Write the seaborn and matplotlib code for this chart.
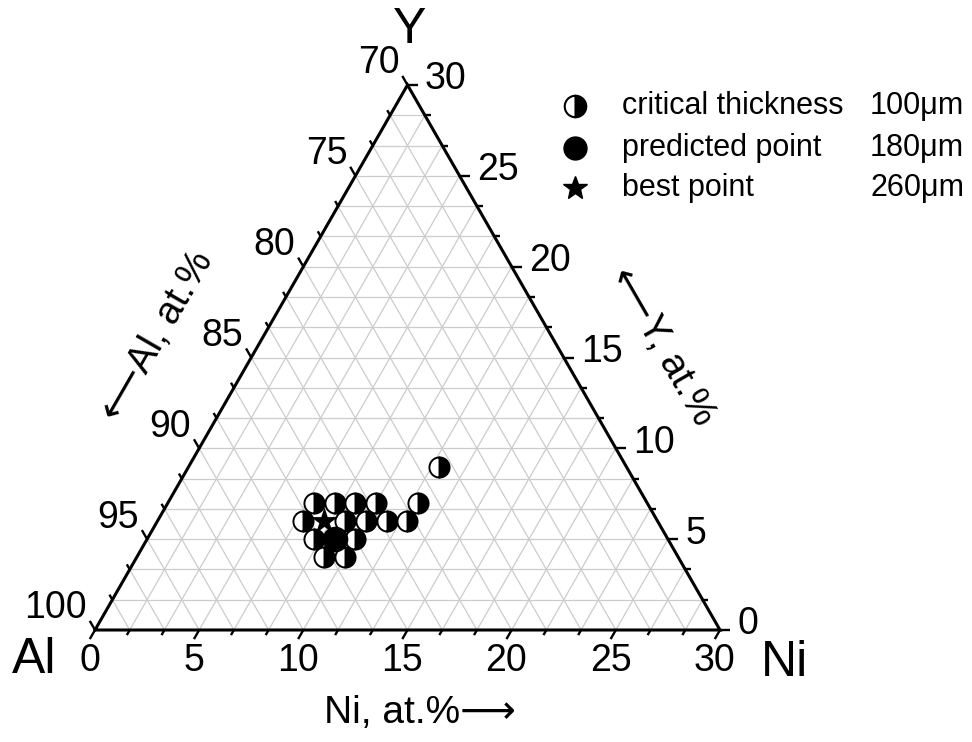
import numpy as np
import matplotlib
matplotlib.use("Agg")
import matplotlib.pyplot as plt
import seaborn as sns
import pandas as pd

# Alloy compositions (at.%); Al is the balance
crit_ni = [7, 8, 9, 10, 12, 7, 9, 10, 11, 12, 8, 10, 9, 10, 12]
crit_y = [7, 7, 7, 7, 7, 6, 6, 6, 6, 6, 5, 5, 4, 4, 9]
pred_ni = [9]
pred_y = [5]
best_ni = [8]
best_y = [6]

ni_ticks = [0, 5, 10, 15, 20, 25, 30]
y_ticks = [0, 5, 10, 15, 20, 25, 30]
al_ticks = [100, 95, 90, 85, 80, 75, 70]

legend_labels = ["critical thickness", "predicted point", "best point"]
legend_values = ["100\u03bcm", "180\u03bcm", "260\u03bcm"]

SPAN = 30.0
H = np.sqrt(3) / 2
FONT = ["Liberation Sans", "DejaVu Sans"]

sns.set_theme(style="white")
plt.rcParams["font.family"] = FONT
plt.rcParams["text.color"] = "black"


def to_xy(ni, y):
    ni = np.asarray(ni, float)
    y = np.asarray(y, float)
    return ni + y / 2, y * H


fig = plt.figure(figsize=(9.72, 7.42), dpi=100)
ax = fig.add_axes([0, 0, 1, 1])
ax.set_xlim(-95 / 20.833, 877 / 20.833)
ax.set_ylim(-112 / 20.977, 630 / 20.977)
ax.axis("off")

# grid every 5/3 at.%
grid_kw = dict(color="#cccccc", lw=0.9, zorder=1)
steps = np.arange(1, 18) * SPAN / 18
for v in steps:
    x, y = to_xy([0, SPAN - v], [v, v])
    ax.plot(x, y, **grid_kw)
    x, y = to_xy([v, v], [0, SPAN - v])
    ax.plot(x, y, **grid_kw)
    x, y = to_xy([v, 0], [0, v])
    ax.plot(x, y, **grid_kw)

# triangle frame
x, y = to_xy([0, SPAN, 0, 0], [0, 0, SPAN, 0])
ax.plot(x, y, color="black", lw=2.2, zorder=3, solid_joinstyle="miter")

# ticks
d_bot = np.array([-0.5, -H])
d_right = np.array([1.0, 0.0])
d_left = np.array([-0.5, H])
for k in range(19):
    v = k * SPAN / 18
    L = 0.5 if k % 3 == 0 else 0.28
    for (ni, yy), d in (((v, 0), d_bot), ((SPAN - v, v), d_right), ((0, v), d_left)):
        px, py = to_xy(ni, yy)
        ax.plot([px, px + L * d[0]], [py, py + L * d[1]], color="black", lw=1.7,
                zorder=3, solid_capstyle="butt")

tick_fs = 27
for t in ni_ticks:
    px, py = to_xy(t, 0)
    ax.annotate(str(t), (px + 0.5 * d_bot[0], py + 0.5 * d_bot[1]), xytext=(0, -3),
                textcoords="offset points", ha="center", va="top", fontsize=tick_fs)
for t in y_ticks:
    px, py = to_xy(SPAN - t, t)
    ax.annotate(str(t), (px + 0.5, py), xytext=(5, 4), textcoords="offset points",
                ha="left", va="center", fontsize=tick_fs)
for t in al_ticks:
    yy = 100 - t
    px, py = to_xy(0, yy)
    ax.annotate(str(t), (px + 0.5 * d_left[0], py + 0.5 * d_left[1]), xytext=(-2, 9),
                textcoords="offset points", ha="right", va="center", fontsize=tick_fs)

# corner labels
corner_fs = 36
ax.text(-2.9, -1.45, "Al", fontsize=corner_fs, ha="center", va="center")
ax.text(33.1, -1.55, "Ni", fontsize=corner_fs, ha="center", va="center")
ax.text(15.1, 28.6, "Y", fontsize=corner_fs, ha="center", va="center")

# axis titles
title_fs = 28
ax.text(3.0, 14.0, "\u27f5Al, at.%", fontsize=title_fs, rotation=60,
        ha="center", va="center", rotation_mode="anchor")
ax.text(27.2, 13.5, "\u27f5Y, at.%", fontsize=title_fs, rotation=-60,
        ha="center", va="center", rotation_mode="anchor")
ax.text(15.6, -3.95, "Ni, at.%\u27f6", fontsize=title_fs, ha="center", va="center")

# data points
crit = pd.DataFrame(dict(zip(["x", "y"], to_xy(crit_ni, crit_y))))
sns.lineplot(data=crit, x="x", y="y", ax=ax, estimator=None, sort=False,
             linestyle="", marker="o", markersize=14.5, fillstyle="right",
             markerfacecolor="black", markerfacecoloralt="white",
             markeredgecolor="black", markeredgewidth=1.4, zorder=5)
pred = pd.DataFrame(dict(zip(["x", "y"], to_xy(pred_ni, pred_y))))
sns.scatterplot(data=pred, x="x", y="y", ax=ax, marker="o", s=340, color="black",
                edgecolor="black", linewidth=0, zorder=6)
best = pd.DataFrame(dict(zip(["x", "y"], to_xy(best_ni, best_y))))
sns.scatterplot(data=best, x="x", y="y", ax=ax, marker="*", s=420, color="black",
                edgecolor="black", linewidth=0, zorder=7)

# legend
leg_fs = 22
rows_y = [1 - 106 / 742, 1 - 148 / 742, 1 - 188 / 742]
mx = 575 / 972
tx = 622 / 972
vx = 964 / 972
fig.lines.append(plt.Line2D([mx], [rows_y[0]], transform=fig.transFigure, marker="o",
                            markersize=15.5, fillstyle="right", markerfacecolor="black",
                            markerfacecoloralt="white", markeredgecolor="black",
                            markeredgewidth=1.5, linestyle=""))
fig.lines.append(plt.Line2D([mx], [rows_y[1]], transform=fig.transFigure, marker="o",
                            markersize=16.5, color="black", linestyle=""))
fig.lines.append(plt.Line2D([mx], [rows_y[2]], transform=fig.transFigure, marker="*",
                            markersize=18, color="black", linestyle=""))
for yy, lab, val in zip(rows_y, legend_labels, legend_values):
    fig.text(tx, yy, lab, fontsize=leg_fs, ha="left", va="center")
    fig.text(vx, yy, val, fontsize=leg_fs, ha="right", va="center")

fig.savefig("out.png", dpi=100, facecolor="white")
